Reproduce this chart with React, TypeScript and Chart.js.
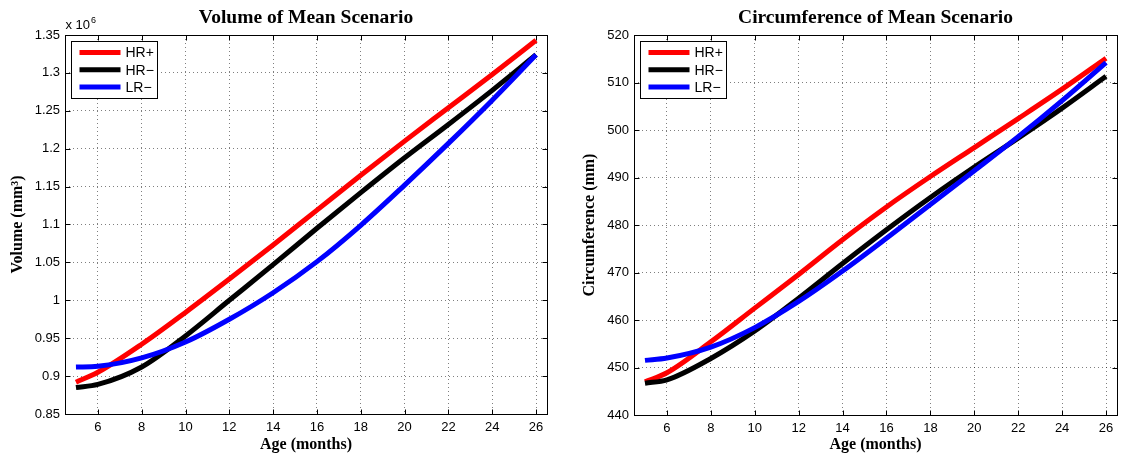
import React, { useEffect, useRef } from "react";
import { Chart, registerables } from "chart.js";

Chart.register(...registerables);

// ---------- data ----------
const ages = [5, 6, 8, 10, 12, 14, 16, 18, 20, 22, 24, 26];

const volHRplus = [0.892, 0.905, 0.942, 0.984, 1.028, 1.073, 1.119, 1.165, 1.21, 1.254, 1.298, 1.343];
const volHRminus = [0.885, 0.889, 0.912, 0.953, 1.0, 1.047, 1.095, 1.142, 1.188, 1.232, 1.277, 1.324];
const volLRminus = [0.912, 0.913, 0.924, 0.945, 0.975, 1.01, 1.051, 1.099, 1.152, 1.207, 1.264, 1.324];

const circHRplus = [447.0, 448.9, 455.4, 462.5, 469.6, 476.9, 483.8, 490.2, 496.3, 502.4, 508.6, 515.1];
const circHRminus = [446.7, 447.4, 451.9, 457.7, 464.6, 471.9, 479.0, 485.8, 492.2, 498.3, 504.6, 511.3];
const circLRminus = [451.5, 452.0, 454.3, 458.4, 463.9, 470.3, 477.2, 484.3, 491.4, 498.6, 506.2, 514.2];

const xTicks = [6, 8, 10, 12, 14, 16, 18, 20, 22, 24, 26];
const volTicks = [0.85, 0.9, 0.95, 1, 1.05, 1.1, 1.15, 1.2, 1.25, 1.3, 1.35];
const circTicks = [440, 450, 460, 470, 480, 490, 500, 510, 520];

const seriesLabels = ["HR+", "HR\u2212", "LR\u2212"];
const seriesColors = ["#ff0000", "#000000", "#0000ff"];

// ---------- decoration plugin (title, box, inward ticks, legend, exponent) ----------
const decorPlugin = {
  id: "decor",
  afterDraw(chart: any, _args: any, opts: any) {
    const ctx = chart.ctx as CanvasRenderingContext2D;
    const { left, right, top, bottom } = chart.chartArea;
    const xs = chart.scales.x;
    const ys = chart.scales.y;
    ctx.save();
    ctx.strokeStyle = "#000";
    ctx.lineWidth = 1;
    const L = Math.round(left) + 0.5;
    const R = Math.round(right) + 0.5;
    const T = Math.round(top) + 0.5;
    const B = Math.round(bottom) + 0.5;
    ctx.beginPath();
    xs.ticks.forEach((t: any) => {
      const px = Math.round(xs.getPixelForValue(t.value)) + 0.5;
      ctx.moveTo(px, B);
      ctx.lineTo(px, B - 5);
      ctx.moveTo(px, T);
      ctx.lineTo(px, T + 5);
    });
    ys.ticks.forEach((t: any) => {
      const py = Math.round(ys.getPixelForValue(t.value)) + 0.5;
      ctx.moveTo(L, py);
      ctx.lineTo(L + 5, py);
      ctx.moveTo(R, py);
      ctx.lineTo(R - 5, py);
    });
    ctx.stroke();
    ctx.strokeRect(L, T, R - L, B - T);

    // title centred on the plot area
    ctx.fillStyle = "#000";
    ctx.font = "bold 19.5px 'Liberation Serif', 'Times New Roman', serif";
    ctx.textAlign = "center";
    ctx.textBaseline = "middle";
    ctx.fillText(opts.title, (left + right) / 2, top - 17);

    // legend
    const bx = L + 6;
    const by = T + 6;
    const bw = 86;
    const bh = 57;
    ctx.fillStyle = "#fff";
    ctx.fillRect(bx, by, bw, bh);
    ctx.strokeStyle = "#000";
    ctx.lineWidth = 1;
    ctx.strokeRect(bx, by, bw, bh);
    const labels: string[] = opts.labels;
    const colors: string[] = opts.colors;
    ctx.font = "14px 'Liberation Sans', Arial, sans-serif";
    ctx.textBaseline = "middle";
    ctx.textAlign = "left";
    labels.forEach((lab, i) => {
      const yy = by + 11 + i * 17.3;
      ctx.strokeStyle = colors[i];
      ctx.lineWidth = 5;
      ctx.beginPath();
      ctx.moveTo(bx + 8, yy);
      ctx.lineTo(bx + 49, yy);
      ctx.stroke();
      ctx.fillStyle = "#000";
      ctx.fillText(lab, bx + 54, yy + 1);
    });

    if (opts.exponent) {
      ctx.fillStyle = "#000";
      ctx.textBaseline = "alphabetic";
      ctx.textAlign = "left";
      ctx.font = "13px 'Liberation Sans', Arial, sans-serif";
      ctx.fillText("x 10", L, T - 7);
      const w = ctx.measureText("x 10").width;
      ctx.font = "9px 'Liberation Sans', Arial, sans-serif";
      ctx.fillText(opts.exponent, L + w + 1, T - 13);
    }
    ctx.restore();
  },
};

type PanelCfg = {
  title: string;
  yTitle: string;
  yTicks: number[];
  series: number[][];
  exponent?: string;
  padRight: number;
  yWidth: number;
  yTitlePad: number;
  xHeight: number;
};

function Panel({ cfg, left, width }: { cfg: PanelCfg; left: number; width: number }) {
  const ref = useRef<HTMLCanvasElement>(null);
  useEffect(() => {
    const order = [3, 2, 1];
    const chart = new Chart(ref.current as HTMLCanvasElement, {
      type: "line",
      data: {
        datasets: cfg.series.map((s, i) => ({
          label: seriesLabels[i],
          data: ages.map((a, k) => ({ x: a, y: s[k] })),
          borderColor: seriesColors[i],
          backgroundColor: seriesColors[i],
          borderWidth: 5,
          pointRadius: 0,
          fill: false,
          cubicInterpolationMode: "monotone" as const,
          order: order[i],
        })),
      },
      options: {
        responsive: false,
        animation: false,
        devicePixelRatio: 1,
        layout: { padding: { left: 0, right: cfg.padRight, top: 35, bottom: 0 } },
        plugins: {
          legend: { display: false },
          tooltip: { enabled: false },
          title: { display: false },
          decor: { labels: seriesLabels, colors: seriesColors, exponent: cfg.exponent, title: cfg.title },
        } as any,
        scales: {
          x: {
            type: "linear",
            min: 4.5,
            max: 26.5,
            afterBuildTicks: (scale: any) => {
              scale.ticks = xTicks.map((v) => ({ value: v }));
            },
            afterFit: (scale: any) => {
              scale.height = cfg.xHeight;
            },
            ticks: {
              autoSkip: false,
              maxRotation: 0,
              padding: 6,
              color: "#000",
              font: { family: "'Liberation Sans', Arial, sans-serif", size: 13 },
              callback: (v: any) => String(v),
            },
            grid: { color: "rgba(0,0,0,0.5)", lineWidth: 1, drawTicks: false },
            border: { display: false, dash: [1, 3] },
            title: {
              display: true,
              text: "Age (months)",
              color: "#000",
              font: { family: "'Liberation Serif', 'Times New Roman', serif", size: 16, weight: "bold" },
              padding: { top: 0, bottom: 9 },
            },
          },
          y: {
            type: "linear",
            min: cfg.yTicks[0],
            max: cfg.yTicks[cfg.yTicks.length - 1],
            afterBuildTicks: (scale: any) => {
              scale.ticks = cfg.yTicks.map((v) => ({ value: v }));
            },
            afterFit: (scale: any) => {
              scale.width = cfg.yWidth;
            },
            ticks: {
              autoSkip: false,
              padding: 5,
              color: "#000",
              font: { family: "'Liberation Sans', Arial, sans-serif", size: 13 },
              callback: (v: any) => String(v),
            },
            grid: { color: "rgba(0,0,0,0.5)", lineWidth: 1, drawTicks: false },
            border: { display: false, dash: [1, 3] },
            title: {
              display: true,
              text: cfg.yTitle,
              color: "#000",
              font: { family: "'Liberation Serif', 'Times New Roman', serif", size: 16, weight: "bold" },
              padding: { top: cfg.yTitlePad, bottom: 0 },
            },
          },
        },
      },
      plugins: [decorPlugin],
    } as any);
    return () => chart.destroy();
  }, []);
  return (
    <canvas
      ref={ref}
      width={width}
      height={463}
      style={{ position: "absolute", left, top: 0, width, height: 463 }}
    />
  );
}

const volumeCfg: PanelCfg = {
  title: "Volume of Mean Scenario",
  yTitle: "Volume (mm\u00B3)",
  yTicks: volTicks,
  series: [volHRplus, volHRminus, volLRminus],
  exponent: "6",
  padRight: 21,
  yWidth: 65,
  yTitlePad: 8,
  xHeight: 49,
};

const circCfg: PanelCfg = {
  title: "Circumference of Mean Scenario",
  yTitle: "Circumference (mm)",
  yTicks: circTicks,
  series: [circHRplus, circHRminus, circLRminus],
  padRight: 20,
  yWidth: 66,
  yTitlePad: 12,
  xHeight: 48,
};

export default function App() {
  return (
    <div style={{ position: "fixed", left: 0, top: 0, width: 1137, height: 463, background: "#fff", overflow: "hidden" }}>
      <Panel cfg={volumeCfg} left={0} width={568} />
      <Panel cfg={circCfg} left={568} width={569} />
    </div>
  );
}
